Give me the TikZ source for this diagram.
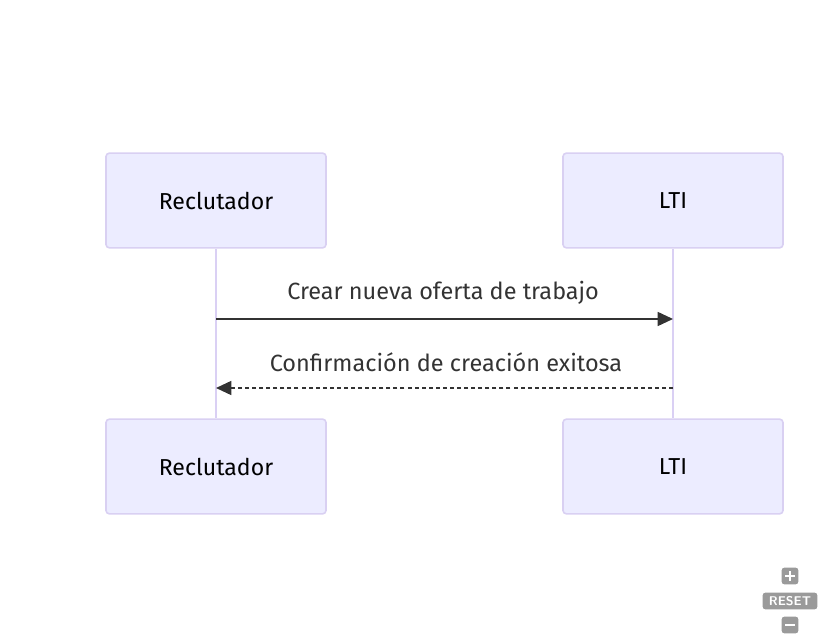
\documentclass[tikz,border=0pt]{standalone}
\usepackage{fontspec}
\setmainfont{Fira Sans}
\usetikzlibrary{arrows.meta}
\definecolor{actfill}{HTML}{ECECFF}
\definecolor{actdraw}{HTML}{D9D0F2}
\definecolor{lifeline}{HTML}{DAD0F4}
\definecolor{msg}{HTML}{333333}
\definecolor{ctrl}{HTML}{9A9A9A}
\tikzset{
  actor/.style={draw=actdraw, line width=1.2pt, fill=actfill, rounded corners=2.5pt,
    minimum width=165pt, minimum height=71pt, inner sep=0pt,
    font=\fontsize{17.3pt}{20pt}\selectfont, text=black},
  life/.style={draw=lifeline, line width=2.2pt},
  msgline/.style={draw=msg, line width=1.2pt, -{Triangle[length=11.5pt,width=10.5pt]}},
  msglabel/.style={font=\fontsize{17.6pt}{20pt}\selectfont, text=msg, inner sep=0pt},
  ctrlbox/.style={fill=ctrl, rounded corners=2pt, inner sep=0pt, text=white}
}
\begin{document}
\begin{tikzpicture}[x=0.75pt,y=-0.75pt]
\useasboundingbox (0,0) rectangle (828,641);
\node[actor] (rt) at (216,200.5) {Reclutador};
\node[actor] (lt) at (673,200.5) {LTI};
\node[actor] (rb) at (216,466.5) {Reclutador};
\node[actor] (lb) at (673,466.5) {LTI};
\draw[life] (rt.south) -- (rb.north);
\draw[life] (lt.south) -- (lb.north);
\coordinate (a1) at (216,319);
\coordinate (b1) at (673,319);
\coordinate (a2) at (216,388);
\coordinate (b2) at (673,388);
\draw[msgline] (a1) -- (b1);
\draw[msgline, dash pattern=on 3pt off 2.3pt] (b2) -- (a2);
\node[msglabel] (l1) at (443,292.5) {Crear nueva oferta de trabajo};
\node[msglabel] (l2) at (446,362.5) {Confirmación de creación exitosa};
% zoom controls
\node[ctrlbox, minimum width=12.5pt, minimum height=12.5pt] (plus) at (790,576) {};
\draw[white, line width=1.8pt] (plus.center) ++(-5,0) -- ++(10,0);
\draw[white, line width=1.8pt] (plus.center) ++(0,-5) -- ++(0,10);
\node[ctrlbox, minimum width=41pt, minimum height=12.5pt, font=\sffamily\bfseries\fontsize{9.5pt}{9.5pt}\selectfont] (reset) at (790,601) {RESET};
\node[ctrlbox, minimum width=12.5pt, minimum height=12.5pt] (minus) at (790,625) {};
\draw[white, line width=1.8pt] (minus.center) ++(-5,0) -- ++(10,0);
\end{tikzpicture}
\end{document}
